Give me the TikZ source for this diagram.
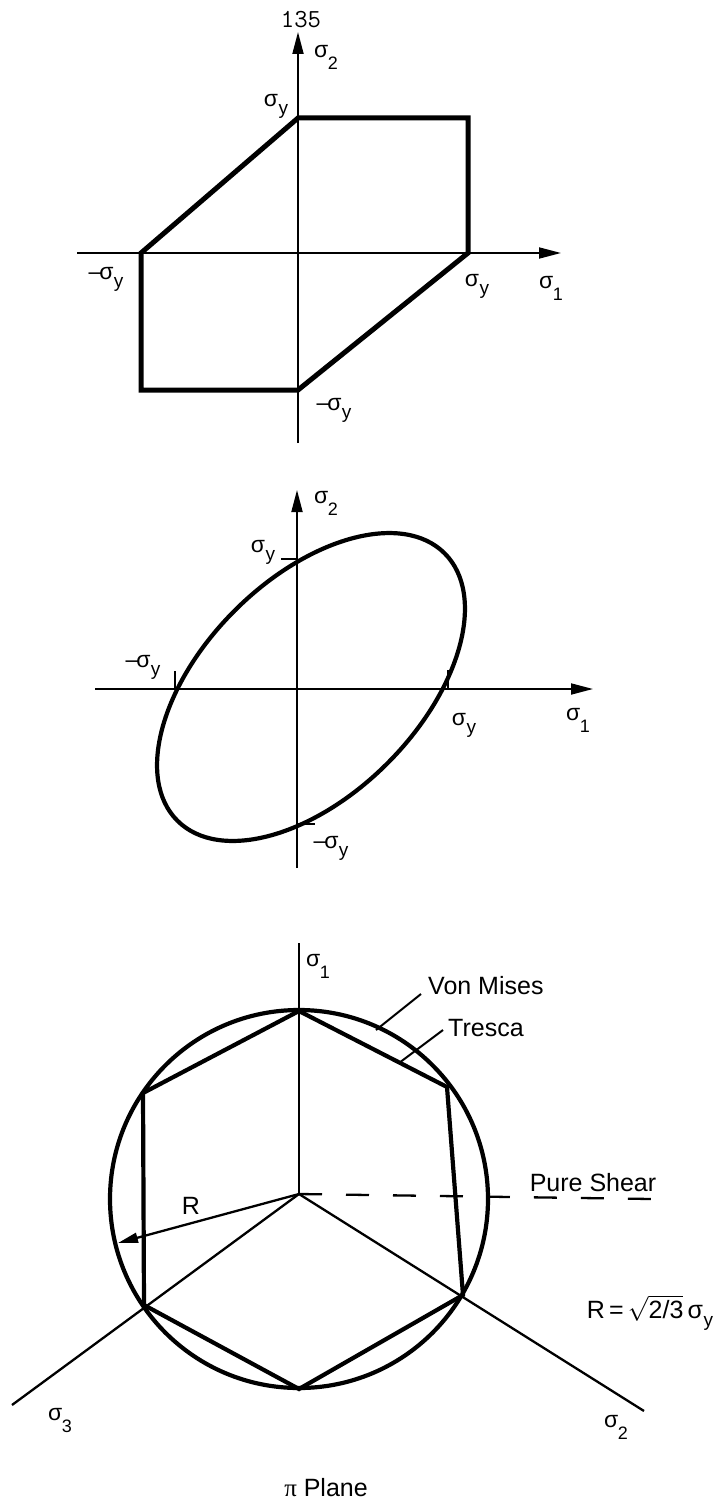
\documentclass[tikz,border=0pt]{standalone}
\usepackage{fontspec}
\setmainfont{Liberation Sans}
\newfontfamily\seriffont{Liberation Serif}
\usetikzlibrary{arrows.meta}
\newcommand{\sgd}[1]{σ\kern-0.5pt\raisebox{-12pt}{\fontsize{18}{18}\selectfont #1}}
\newcommand{\sgy}{σ\kern0.5pt\raisebox{-8pt}{\fontsize{19}{19}\selectfont y}}
\newcommand{\msgy}{–\kern-2pt\sgy}
\tikzset{
  axisline/.style={line width=1.8pt},
  axisarrow/.style={line width=1.8pt,-{Triangle[length=22pt,width=11pt]}},
  yieldline/.style={line width=5pt,line join=miter},
  vmline/.style={line width=4.2pt},
  thinline/.style={line width=2.3pt},
  lbl/.style={inner sep=0pt,font=\fontsize{25}{25}\selectfont},
  sglbl/.style={inner sep=0pt,font=\fontsize{23}{23}\selectfont},
}
\begin{document}
\begin{tikzpicture}[x=1pt,y=-1pt]
\useasboundingbox[fill=white] (0,0) rectangle (720,1509);

% ---------------- Diagram 1: Tresca in sigma1-sigma2 plane
\coordinate (a1t) at (298,32);
\coordinate (a1b) at (298,443);
\coordinate (a1l) at (77,253);
\coordinate (a1r) at (561,253);
\draw[axisarrow] (a1b) -- (a1t);
\draw[axisarrow] (a1l) -- (a1r);
\coordinate (t1) at (298,118);
\coordinate (t2) at (468,118);
\coordinate (t3) at (468,253);
\coordinate (t4) at (298,390);
\coordinate (t5) at (141,390);
\coordinate (t6) at (141,253);
\draw[yieldline] (t1) -- (t2) -- (t3) -- (t4) -- (t5) -- (t6) -- cycle;

\node[inner sep=0pt,font=\fontsize{26}{26}\selectfont\ttfamily] (n135) at (301,20) {135};
\node[sglbl] (d1s2) at (326,57) {\sgd{2}};
\node[sglbl] (d1syt) at (276,106) {\sgy};
\node[sglbl] (d1syl) at (106,279) {\msgy};
\node[sglbl] (d1syr) at (477,286) {\sgy};
\node[sglbl] (d1s1) at (551,288) {\sgd{1}};
\node[sglbl] (d1syb) at (334,410) {\msgy};

% ---------------- Diagram 2: Von Mises ellipse
\coordinate (b1t) at (297,490);
\coordinate (b1b) at (297,868);
\coordinate (b1l) at (95,689);
\coordinate (b1r) at (593,689);
\draw[axisarrow] (b1b) -- (b1t);
\draw[axisarrow] (b1l) -- (b1r);
\coordinate (ec) at (311,687);
\begin{scope}[shift={(ec)},rotate=45]
  \draw[vmline] (0,0) ellipse [x radius=189, y radius=108];
\end{scope}
\coordinate (k1a) at (281,559); \coordinate (k1b) at (297,559);
\coordinate (k2a) at (297,824); \coordinate (k2b) at (315,824);
\coordinate (k3a) at (175,671); \coordinate (k3b) at (175,689);
\coordinate (k4a) at (448,670); \coordinate (k4b) at (448,689);
\draw[axisline] (k1a) -- (k1b);
\draw[axisline] (k2a) -- (k2b);
\draw[axisline] (k3a) -- (k3b);
\draw[axisline] (k4a) -- (k4b);

\node[sglbl] (d2s2) at (326,503) {\sgd{2}};
\node[sglbl] (d2syt) at (263,552) {\sgy};
\node[sglbl] (d2syl) at (143,667) {\msgy};
\node[sglbl] (d2syr) at (464,725) {\sgy};
\node[sglbl] (d2s1) at (578,720) {\sgd{1}};
\node[sglbl] (d2syb) at (331,848) {\msgy};

% ---------------- Diagram 3: pi plane
\coordinate (O3) at (299,1194);
\coordinate (c3) at (299,1199);
\coordinate (s1top) at (299,943);
\coordinate (p1) at (299,1011);
\coordinate (p2) at (447,1087);
\coordinate (p3) at (463,1295);
\coordinate (p4) at (299,1389);
\coordinate (p5) at (144,1305);
\coordinate (p6) at (143,1093);
\coordinate (s3end) at (12,1405);
\coordinate (s2end) at (644,1411);
\coordinate (shearend) at (652,1199);
\coordinate (Rend) at (118,1243);

\draw[axisline] (s1top) -- (O3);
\draw[thinline] (s3end) -- (O3) -- (s2end);
\draw[vmline] (c3) circle [radius=189];
\draw[vmline,line join=miter] (p1) -- (p2) -- (p3) -- (p4) -- (p5) -- (p6) -- cycle;
\draw[thinline,dash pattern=on 23pt off 24pt] (O3) -- (shearend);
\draw[thinline,-{Triangle[length=20pt,width=10pt]}] (O3) -- (Rend);

\coordinate (vm1) at (421,994); \coordinate (vm2) at (376,1030);
\coordinate (tr1) at (443,1030); \coordinate (tr2) at (399,1063);
\draw[line width=2pt] (vm1) -- (vm2);
\draw[line width=2pt] (tr1) -- (tr2);

\node[sglbl] (d3s1) at (318,966) {\sgd{1}};
\node[lbl,anchor=west] (vm) at (428,986) {Von Mises};
\node[lbl,anchor=west] (tr) at (448,1028) {Tresca};
\node[lbl] (ps) at (593,1183) {Pure Shear};
\node[lbl] (R) at (191,1206) {R};
\node[lbl] (Rf) at (650,1313) {R\,=\,$\sqrt{\hbox{2/3}}$\,\sgy};
\node[sglbl] (d3s3) at (60,1420) {\sgd{3}};
\node[sglbl] (d3s2) at (616,1427) {\sgd{2}};
\node[lbl] (pp) at (326,1488) {{\seriffont π} Plane};
\end{tikzpicture}
\end{document}
